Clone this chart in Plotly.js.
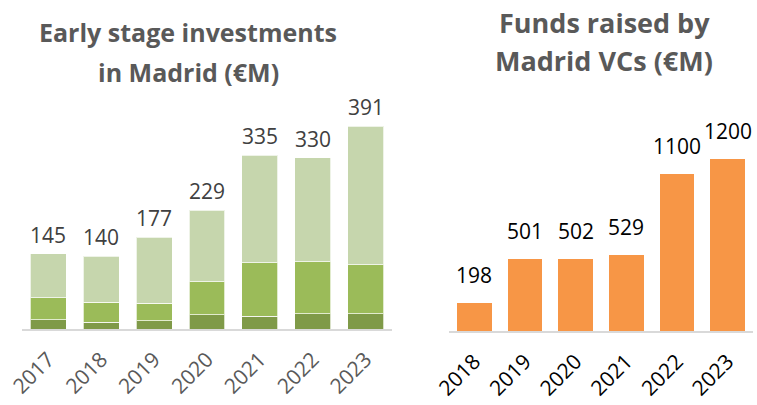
<!DOCTYPE html>
<html>
<head>
<meta charset="utf-8">
<script src="https://cdn.plot.ly/plotly-3.0.1.min.js"></script>
<style>html,body{margin:0;padding:0;background:#fff;}#chart{width:757px;height:405px;}</style>
</head>
<body>
<div id="chart"></div>
<script>
// Early stage investments in Madrid (€M)
const earlyYears = ["2017", "2018", "2019", "2020", "2021", "2022", "2023"];
const earlyTotals = [145, 140, 177, 229, 335, 330, 391];
const earlyDark = [18, 13, 16, 27, 25, 29, 29];
const earlyMid = [42, 39, 34, 64, 103, 101, 95];
const earlyLight = [85, 88, 127, 138, 207, 200, 267];

// Funds raised by Madrid VCs (€M)
const fundYears = ["2018", "2019", "2020", "2021", "2022", "2023"];
const fundValues = [198, 501, 502, 529, 1100, 1200];

const W = 757, H = 405;
const font = "Open Sans, Noto Sans, sans-serif";
const segLine = {color: "rgba(255,255,255,0.7)", width: 1};

const traces = [
  {type: "bar", x: earlyYears, y: earlyDark, xaxis: "x", yaxis: "y",
   marker: {color: "#7f9a48", line: segLine}, hoverinfo: "skip"},
  {type: "bar", x: earlyYears, y: earlyMid, xaxis: "x", yaxis: "y",
   marker: {color: "#9bbb59", line: segLine}, hoverinfo: "skip"},
  {type: "bar", x: earlyYears, y: earlyLight, xaxis: "x", yaxis: "y",
   marker: {color: "#c6d6ad", line: segLine}, hoverinfo: "skip"},
  {type: "bar", x: fundYears, y: fundValues, xaxis: "x2", yaxis: "y2",
   marker: {color: "#f79646"}, hoverinfo: "skip"}
];

const leftBottom = 329, rightBottom = 331, topPx = 100;
const leftScale = 203 / 391;     // px per unit
const rightScale = 171.7 / 1200;

const annotations = [];
earlyYears.forEach((yr, i) => annotations.push({
  text: String(earlyTotals[i]), x: i, y: earlyTotals[i], xref: "x", yref: "y",
  xanchor: "center", yanchor: "bottom", yshift: 3, showarrow: false,
  font: {family: font, size: 21, color: "#404040"}
}));
fundYears.forEach((yr, i) => annotations.push({
  text: String(fundValues[i]), x: i, y: fundValues[i], xref: "x2", yref: "y2",
  xanchor: "center", yanchor: "bottom", yshift: 12, showarrow: false,
  font: {family: font, size: 21, color: "#000000"}
}));
const titleLines = [
  ["Early stage investments", 188, 32, 25],
  ["in Madrid (€M)", 188, 72, 25],
  ["Funds raised by", 604, 22, 27],
  ["Madrid VCs (€M)", 604, 60, 27]
];
titleLines.forEach(([t, x, y, s]) => annotations.push({
  text: "<b>" + t + "</b>", xref: "paper", yref: "paper", x: x / W, y: 1 - y / H,
  xanchor: "center", yanchor: "middle", showarrow: false,
  font: {family: font, size: s, color: "#595959"}
}));

const layout = {
  width: W, height: H,
  margin: {l: 0, r: 0, t: 0, b: 0},
  paper_bgcolor: "#ffffff", plot_bgcolor: "rgba(0,0,0,0)",
  showlegend: false,
  barmode: "stack",
  bargap: 0.32,
  xaxis: {domain: [22 / W, 392 / W], anchor: "y", type: "category",
          range: [-0.5, earlyYears.length - 0.5], autorange: false,
          showline: true, linecolor: "#d9d9d9", linewidth: 2, ticks: "", showgrid: false,
          tickangle: -45, ticklabelstandoff: 8,
          tickfont: {family: font, size: 21, color: "#595959"}, fixedrange: true},
  yaxis: {domain: [(H - leftBottom) / H, (H - topPx) / H], anchor: "x", autorange: false,
          range: [0, (leftBottom - topPx) / leftScale], visible: false, showgrid: false, fixedrange: true},
  xaxis2: {domain: [449 / W, 753 / W], anchor: "y2", type: "category",
          range: [-0.5, fundYears.length - 0.5], autorange: false,
          showline: true, linecolor: "#d9d9d9", linewidth: 2, ticks: "", showgrid: false,
          tickangle: -45, ticklabelstandoff: 8,
          tickfont: {family: font, size: 21, color: "#000000"}, fixedrange: true},
  yaxis2: {domain: [(H - rightBottom) / H, (H - topPx) / H], anchor: "x2", autorange: false,
          range: [0, (rightBottom - topPx) / rightScale], visible: false, showgrid: false, fixedrange: true},
  annotations: annotations
};

Plotly.newPlot("chart", traces, layout, {staticPlot: true, displayModeBar: false});
</script>
</body>
</html>
